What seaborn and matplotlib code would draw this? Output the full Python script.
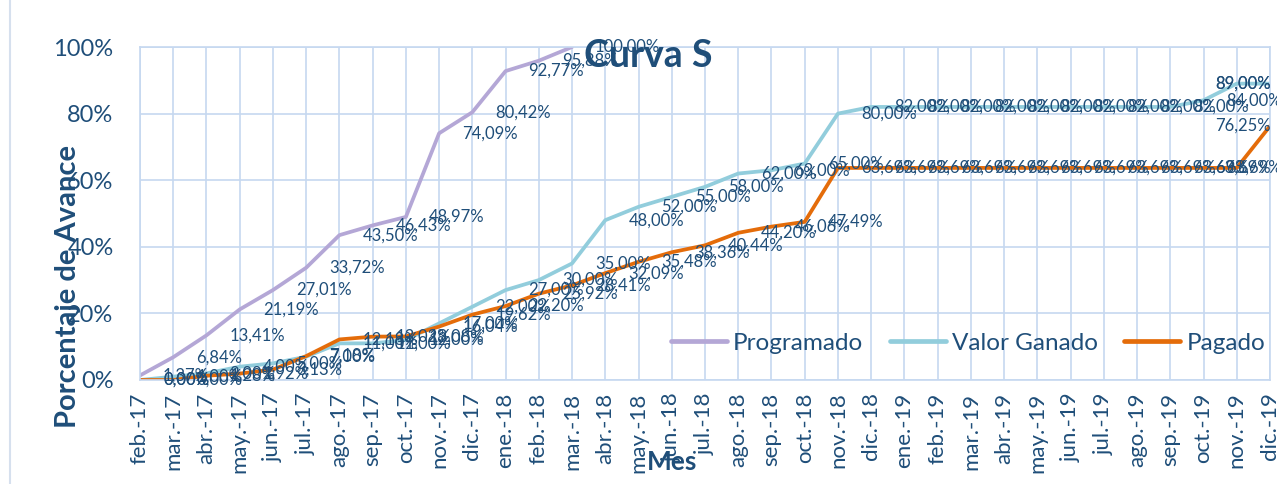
import numpy as np
import pandas as pd
import matplotlib
matplotlib.use("Agg")
import matplotlib.pyplot as plt
from matplotlib.lines import Line2D
import seaborn as sns

months = ["feb.-17", "mar.-17", "abr.-17", "may.-17", "jun.-17", "jul.-17", "ago.-17", "sep.-17",
          "oct.-17", "nov.-17", "dic.-17", "ene.-18", "feb.-18", "mar.-18", "abr.-18", "may.-18",
          "jun.-18", "jul.-18", "ago.-18", "sep.-18", "oct.-18", "nov.-18", "dic.-18", "ene.-19",
          "feb.-19", "mar.-19", "abr.-19", "may.-19", "jun.-19", "jul.-19", "ago.-19", "sep.-19",
          "oct.-19", "nov.-19", "dic.-19"]

programado = [1.37, 6.84, 13.41, 21.19, 27.01, 33.72, 43.50, 46.43, 48.97, 74.09, 80.42, 92.77,
              95.88, 100.00]

valor_ganado = [0.00, 1.00, 2.00, 4.00, 5.00, 7.00, 11.00, 11.00, 12.00, 17.00, 22.00, 27.00,
                30.00, 35.00, 48.00, 52.00, 55.00, 58.00, 62.00, 63.00, 65.00, 80.00, 82.00,
                82.00, 82.00, 82.00, 82.00, 82.00, 82.00, 82.00, 82.00, 82.00, 84.00, 89.00, 89.00]

pagado = [0.00, 0.00, 1.28, 1.92, 3.13, 7.18, 12.18, 13.02, 13.08, 16.04, 19.62, 22.20, 25.92,
          28.41, 32.09, 35.48, 38.36, 40.44, 44.20, 46.06, 47.49, 63.69, 63.69, 63.69, 63.69,
          63.69, 63.69, 63.69, 63.69, 63.69, 63.69, 63.69, 63.69, 63.69, 76.25]

series_names = ["Programado", "Valor Ganado", "Pagado"]
series_colors = ["#B4A7D6", "#92CDDC", "#E46C0A"]

rows = []
for name, vals in zip(series_names, [programado, valor_ganado, pagado]):
    for i, v in enumerate(vals):
        rows.append({"idx": i, "valor": v, "serie": name})
df = pd.DataFrame(rows)

sns.set_theme(style="white")
FONT = ["Lato", "DejaVu Sans"]
plt.rcParams["font.family"] = FONT

TXT = "#1F4E79"
GRID = "#C6D8F0"

W, H = 1277, 484
fig = plt.figure(figsize=(W / 100, H / 100), dpi=100)
ax = fig.add_axes([140 / W, 1 - 380 / H, (1270 - 140) / W, (380 - 47) / H])

sns.lineplot(data=df, x="idx", y="valor", hue="serie", hue_order=series_names,
             palette=series_colors, linewidth=2.7, ax=ax, legend=False, sort=False,
             estimator=None)

ax.set_xlim(0, len(months) - 1)
ax.set_ylim(0, 100)
ax.set_xticks(range(len(months)))
ax.set_xticklabels(months, rotation=90, fontsize=16, color=TXT)
ax.set_yticks([0, 20, 40, 60, 80, 100])
ax.set_yticklabels([f"{t}%" for t in [0, 20, 40, 60, 80, 100]], fontsize=17, color=TXT)
ax.tick_params(axis="x", length=0, pad=9)
ax.tick_params(axis="y", length=0, pad=19)
ax.grid(True, color=GRID, linewidth=1.2)
ax.set_axisbelow(True)
for sp in ax.spines.values():
    sp.set_color(GRID)
    sp.set_linewidth(1.2)

ax.set_xlabel("")
ax.set_ylabel("Porcentaje de Avance", fontsize=21, fontweight="bold", color=TXT)
ax.yaxis.set_label_coords(-(140 - 81) / 1130, 0.28)

fig.text(672 / W, 1 - 462 / H, "Mes", fontsize=19, fontweight="bold", color=TXT,
         ha="center", va="center")

# data labels
last = len(months) - 1
for vals in [programado, valor_ganado, pagado]:
    for i, v in enumerate(vals):
        txt = f"{v:.2f}%".replace(".", ",")
        if i >= last - 1:
            ax.annotate(txt, xy=(last, v), xytext=(1, 0), textcoords="offset pixels",
                        ha="right", va="center", fontsize=12, color=TXT,
                        annotation_clip=False)
        else:
            ax.annotate(txt, xy=(i, v), xytext=(23, 0), textcoords="offset pixels",
                        ha="left", va="center", fontsize=12, color=TXT,
                        annotation_clip=False)

fig.text(648 / W, 1 - 56 / H, "Curva S", fontsize=27, fontweight="bold", color=TXT,
         ha="center", va="center")

handles = [Line2D([0], [0], color=c, linewidth=3.4) for c in series_colors]
ax.legend(handles, series_names, loc="center", bbox_to_anchor=((968 - 140) / 1130, (380 - 343) / 333),
          ncol=3, frameon=False, fontsize=17.5, handlelength=2.3, handletextpad=0.25,
          columnspacing=1.1, labelcolor=TXT)

fig.add_artist(Line2D([10 / W, 10 / W], [0, 1], color="#D6E0EE", linewidth=1.5))

fig.savefig("out.png", dpi=100)
